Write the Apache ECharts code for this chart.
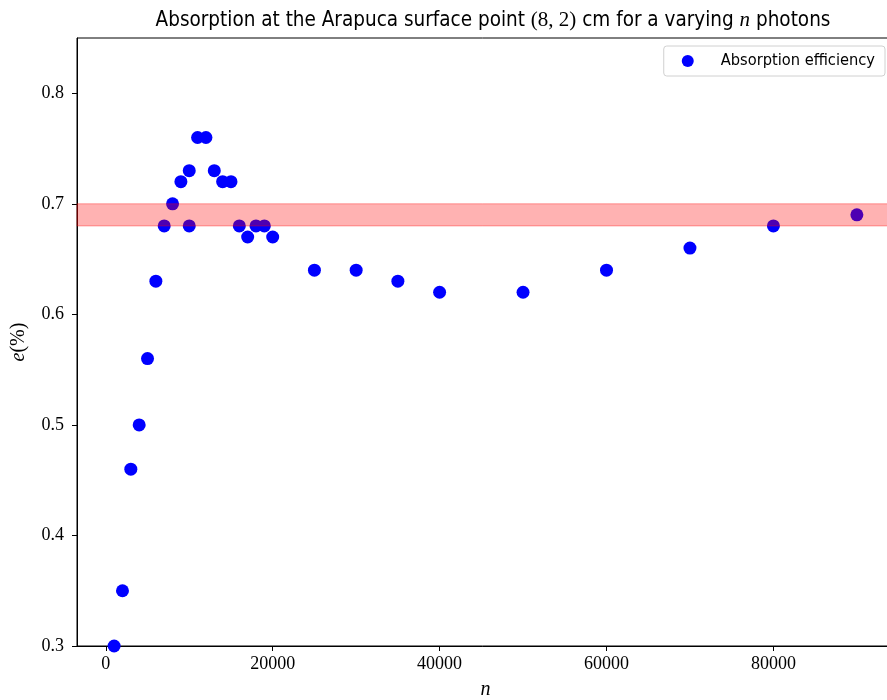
<!DOCTYPE html>
<html>
<head>
<meta charset="utf-8">
<script src="https://cdn.jsdelivr.net/npm/echarts@6/dist/echarts.min.js"></script>
<style>
  html, body { margin: 0; padding: 0; background: #fff; }
  #chart { width: 887px; height: 700px; }
</style>
</head>
<body>
<div id="chart"></div>
<script>
// photon counts n and measured absorption efficiency e(%)
const nPhotons = [1000, 2000, 3000, 4000, 5000, 6000, 7000, 8000, 9000, 10000, 10000,
  11000, 12000, 13000, 14000, 15000, 16000, 17000, 18000, 19000, 20000,
  25000, 30000, 35000, 40000, 50000, 60000, 70000, 80000, 90000];
const efficiency = [0.30, 0.35, 0.46, 0.50, 0.56, 0.63, 0.68, 0.70, 0.72, 0.73, 0.68,
  0.76, 0.76, 0.73, 0.72, 0.72, 0.68, 0.67, 0.68, 0.68, 0.67,
  0.64, 0.64, 0.63, 0.62, 0.62, 0.64, 0.66, 0.68, 0.69];
// reference band
const band = [0.68, 0.70];
const xTicks = [0, 20000, 40000, 60000, 80000];
const yTicks = [0.3, 0.4, 0.5, 0.6, 0.7, 0.8];

const serif = "'Liberation Serif', 'DejaVu Serif', serif";
const sans = "'DejaVu Sans Condensed', 'DejaVu Sans', sans-serif";

const chart = echarts.init(document.getElementById("chart"));

chart.setOption({
  animation: false,
  title: {
    text: "{a|Absorption at the Arapuca surface point }{m|(8, 2)}{a| cm for a varying }{i|n}{a| photons}",
    left: 488,
    textAlign: "center",
    top: 5,
    textStyle: {
      rich: {
        a: { fontFamily: sans, fontSize: 20.5, fontWeight: "normal", color: "#000" },
        m: { fontFamily: serif, fontSize: 21, fontWeight: "normal", color: "#000" },
        i: { fontFamily: serif, fontSize: 21, fontWeight: "normal", fontStyle: "italic", color: "#000" },
      },
    },
  },
  legend: {
    data: ["Absorption efficiency"],
    right: 2,
    top: 46,
    orient: "vertical",
    borderColor: "#d0d0d0",
    borderWidth: 1,
    borderRadius: 3,
    padding: [7, 10, 7, 18],
    itemWidth: 12,
    itemHeight: 12,
    textStyle: { fontFamily: sans, fontSize: 16.3, color: "#000", padding: [0, 0, 0, 22] },
  },
  grid: {
    left: 77,
    top: 38,
    width: 817,
    bottom: 54,
    outerBoundsMode: "none",
    show: true,
    borderColor: "#000",
    borderWidth: 1,
  },
  xAxis: {
    type: "value",
    min: -3450,
    max: 94450,
    name: "n",
    nameLocation: "middle",
    nameGap: 34,
    nameTextStyle: { fontFamily: serif, fontStyle: "italic", fontSize: 20, color: "#000" },
    splitLine: { show: false },
    axisLine: { onZero: false, lineStyle: { color: "#000", width: 1 } },
    axisTick: { show: true, length: 5, lineStyle: { color: "#000" }, customValues: xTicks },
    axisLabel: {
      fontFamily: serif, fontSize: 18, color: "#000", margin: 9,
      customValues: xTicks,
      formatter: v => String(v),
    },
  },
  yAxis: {
    type: "value",
    min: 0.3,
    max: 0.85,
    name: "{i|e}{r|(%)}",
    nameLocation: "middle",
    nameGap: 48,
    nameRotate: 90,
    nameTextStyle: {
      rich: {
        i: { fontFamily: serif, fontStyle: "italic", fontSize: 20, color: "#000" },
        r: { fontFamily: serif, fontSize: 20, color: "#000" },
      },
    },
    splitLine: { show: false },
    axisLine: { show: true, onZero: false, lineStyle: { color: "#000", width: 1 } },
    axisTick: { show: true, length: 5, lineStyle: { color: "#000" }, customValues: yTicks },
    axisLabel: {
      fontFamily: serif, fontSize: 18, color: "#000", margin: 13,
      customValues: yTicks,
      formatter: v => v.toFixed(1),
    },
  },
  series: [
    {
      name: "Absorption efficiency",
      type: "scatter",
      symbol: "circle",
      symbolSize: 13,
      itemStyle: { color: "#0000ff", opacity: 1 },
      data: nPhotons.map((n, i) => [n, efficiency[i]]),
      z: 2,
    },
    {
      name: "band",
      type: "custom",
      z: 10,
      silent: true,
      data: [[band[0], band[1]]],
      renderItem: (params, api) => {
        const lo = api.coord([0, api.value(0)]);
        const hi = api.coord([0, api.value(1)]);
        const cs = params.coordSys;
        return {
          type: "rect",
          shape: { x: cs.x, y: hi[1], width: cs.width, height: lo[1] - hi[1] },
          style: { fill: "rgba(255,0,0,0.3)", stroke: "rgba(255,0,0,0.35)", lineWidth: 1 },
        };
      },
    },
  ],
});
</script>
</body>
</html>
